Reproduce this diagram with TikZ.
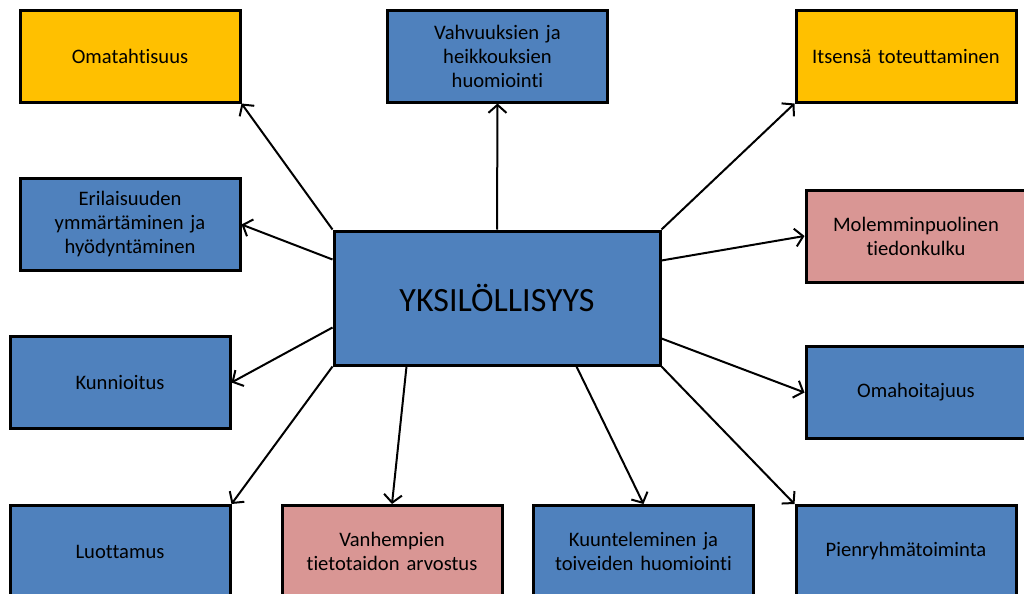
\documentclass[tikz,border=0pt]{standalone}
\usepackage{fontspec}
\setmainfont{Carlito}[Ligatures={NoCommon}, WordSpace=0.8]
\usetikzlibrary{arrows.meta,calc}
\definecolor{boxblue}{HTML}{4F81BD}
\definecolor{boxgold}{HTML}{FFC000}
\definecolor{boxpink}{HTML}{D99694}
\def\boxwid{110pt}
\def\boxhgt{46pt}
\def\boxtwid{106pt}

\begin{document}
\begin{tikzpicture}[
            x=1pt, y=1pt, node distance=0pt,
            bluebox/.style={%
                line width=1.5pt, rectangle,%
                minimum width=\boxwid, minimum height=\boxhgt,%
                text centered, draw=black, fill=boxblue, text width=\boxtwid,%
                font=\fontsize{10.3pt}{12pt}\selectfont, inner sep=0pt%
            },
            goldbox/.style={bluebox, fill=boxgold},
            pinkbox/.style={bluebox, fill=boxpink},
            mainbox/.style={%
                bluebox, minimum width=163pt, minimum height=67pt,%
                text width=150pt, font=\fontsize{17pt}{20pt}\selectfont%
            },
            arrow/.style={line width=1pt,-{Straight Barb[length=4pt,width=9pt]}}
        ]

        \useasboundingbox (0,0) rectangle (512,-297);

        % Define nodes
        \node (omat) [goldbox] at (65,-28) {%
            Omatahtisuus
        };
        \node (vahv) [bluebox, right of=omat, xshift=183.75pt] {
            Vahvuuksien ja\\
            heikkouksien\\
            huomiointi
        };
        \node (itse) [goldbox, right of=vahv, xshift=204.25pt] {
            Itsensä toteuttaminen
        };
        \node (eril) [bluebox, below of=omat, yshift=-84.25pt] {
            Erilaisuuden\\
            ymmärtäminen ja\\
            hyödyntäminen
        };
        \node (kunn) [bluebox, below of=eril, yshift=-79pt, xshift=-5pt] {
            Kunnioitus
        };
        \node (luot) [bluebox, below of=kunn, yshift=-84.5pt] {
            Luottamus
        };
        \node (vanh) [pinkbox, right of=luot, xshift=136pt] {
            Vanhempien\\
            tietotaidon arvostus
        };
        \node (kuun) [bluebox, right of=vanh, xshift=125.75pt] {
            Kuunteleminen ja\\
            toiveiden huomiointi
        };
        \node (pien) [bluebox, right of=kuun, xshift=131.25pt] {
            Pienryhmätoiminta
        };
        \node (omah) [bluebox, above of=pien, yshift=79.5pt, xshift=5pt] {
            Omahoitajuus
        };
        \node (mole) [pinkbox, above of=omah, yshift=78.25pt] {
            Molemminpuolinen\\
            tiedonkulku
        };
        \node (yksi) [mainbox] at (248.5,-149) {
            YKSILÖLLISYYS
        };

        \draw [arrow] (yksi.north west) -- (omat.south east);
        \draw [arrow] (yksi.north) -- (vahv.south);
        \draw [arrow] (yksi.north east) -- (itse.south west);
        \draw [arrow] ([yshift=-15pt]yksi.north west) -- (eril.east);
        \draw [arrow] ([yshift=-15.5pt]yksi.north east) -- (mole.west);
        \draw [arrow] ([yshift=19.5pt]yksi.south west) -- (kunn.east);
        \draw [arrow] ([yshift=14pt]yksi.south east) -- (omah.west);
        \draw [arrow] (yksi.south west) -- (luot.north east);
        \draw [arrow] ([xshift=37pt]yksi.south west) -- (vanh.north);
        \draw [arrow] ([xshift=-42.5pt]yksi.south east) -- (kuun.north);
        \draw [arrow] (yksi.south east) -- (pien.north west);

        \end{tikzpicture}
\end{document}
